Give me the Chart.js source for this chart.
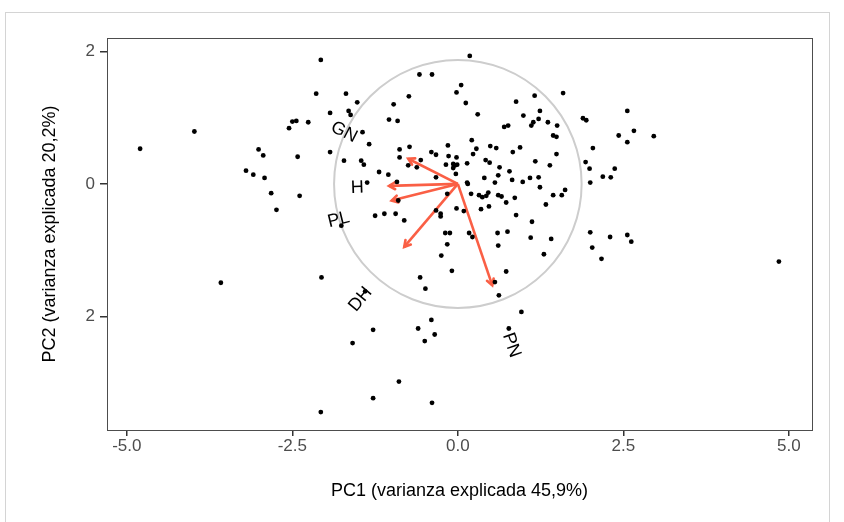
<!DOCTYPE html>
<html><head><meta charset="utf-8">
<script src="https://cdn.jsdelivr.net/npm/chart.js@4.4.0/dist/chart.umd.min.js"></script>
<style>
html,body{margin:0;padding:0;background:#fff;}
#wrap{position:relative;width:844px;height:522px;overflow:hidden;}
#frame{position:absolute;left:5px;top:12px;width:825px;height:530px;border:1px solid #d4d4d4;box-sizing:border-box;pointer-events:none;}
</style></head><body>
<div id="wrap"><canvas id="c" width="844" height="522"></canvas><div id="frame"></div></div>
<script>
// PCA scores (PC1, PC2)
const pcX = [-4.80,-3.98,-3.58,-3.20,-3.09,-3.01,-2.94,-2.92,-2.82,-2.74,
 -2.55,-2.50,-2.44,-2.42,-2.39,-2.26,-2.07,-2.14,-1.69,-1.93,
 -1.65,-1.62,-1.52,-1.44,-1.34,-1.93,-1.72,-1.46,-1.42,-1.37,
 -1.76,-2.06,-1.40,-1.28,-1.59,-1.28,-2.07,-1.19,-1.05,-0.92,
 -0.90,-1.25,-1.11,-0.94,-0.81,-0.97,-0.74,-0.58,-0.39,-1.04,
 -0.91,-0.88,-0.88,-0.73,-0.75,-0.56,-0.62,-0.40,-0.33,-0.33,
 -0.57,-0.49,-0.40,-0.60,-0.35,-0.50,-0.89,-0.39,-0.33,0.18,
 0.05,-0.02,0.12,0.30,-0.15,-0.14,-0.02,-0.18,-0.07,-0.04,
 -0.01,-0.07,0.14,0.21,0.28,0.23,-0.03,0.14,0.15,0.20,
 -0.16,-0.02,0.09,-0.26,-0.26,-0.19,-0.12,-0.16,-0.25,-0.09,
 0.17,0.22,1.16,1.59,0.88,0.99,1.24,1.22,1.14,1.11,
 0.70,0.76,1.36,1.50,1.44,1.49,1.89,1.94,0.49,0.58,
 0.83,0.94,0.42,0.48,0.63,0.78,1.17,1.39,1.49,1.93,
 1.99,0.40,0.56,0.61,0.82,0.98,1.09,1.22,1.24,1.62,
 1.57,1.44,1.33,0.32,0.37,0.43,0.46,0.61,0.66,0.73,
 0.86,0.47,0.35,0.88,1.12,0.60,0.75,0.61,1.10,1.41,
 1.30,0.73,0.56,0.62,0.96,0.77,2.56,2.66,2.43,2.56,
 2.96,2.04,2.00,2.37,2.19,2.31,2.00,2.03,2.17,2.30,
 2.56,2.62,4.85];
const pcY = [0.53,0.79,-1.49,0.20,0.14,0.52,0.43,0.09,-0.14,-0.39,
 0.84,0.94,0.95,0.41,-0.18,0.93,1.87,1.36,1.36,1.07,
 1.10,1.04,1.23,0.78,0.60,0.48,0.35,0.35,0.29,0.02,
 -0.63,-1.41,-1.62,-2.20,-2.40,-3.23,-3.44,0.18,0.14,0.03,
 -0.25,-0.48,-0.45,-0.45,-0.55,1.20,1.32,1.65,1.65,0.97,
 0.95,0.52,0.40,0.56,0.28,0.36,0.25,0.48,0.44,0.10,
 -1.41,-1.58,-2.05,-2.18,-2.27,-2.37,-2.98,-3.30,-0.40,1.93,
 1.49,1.38,1.22,1.05,0.58,0.42,0.40,0.29,0.30,0.28,
 0.29,0.24,0.31,0.66,0.53,0.45,0.15,0.02,0.00,-0.15,
 -0.15,-0.37,-0.41,-0.45,-0.49,-0.74,-0.74,-0.91,-1.08,-1.31,
 -0.74,-0.80,1.33,1.37,1.24,1.03,1.10,0.98,0.93,0.88,
 0.86,0.88,0.93,0.88,0.73,0.71,0.99,0.96,0.57,0.54,
 0.48,0.55,0.36,0.32,0.25,0.19,0.34,0.28,0.45,0.33,
 0.23,0.09,0.02,0.13,0.06,0.03,0.09,0.10,-0.05,-0.09,
 -0.17,-0.17,-0.31,-0.17,-0.20,-0.18,-0.13,-0.17,-0.19,-0.28,
 -0.21,-0.34,-0.38,-0.47,-0.57,-0.74,-0.72,-0.93,-0.81,-0.83,
 -1.06,-1.32,-1.48,-1.68,-1.93,-2.18,1.10,0.80,0.73,0.63,
 0.72,0.54,0.02,0.23,0.11,0.10,-0.73,-0.96,-1.13,-0.80,
 -0.77,-0.87,-1.17];

// variable loadings (arrows) and label placement
const varNames = ['GN','H','PL','DH','PN'];
const arrowX = [-0.75,-1.04,-1.00,-0.81,0.52];
const arrowY = [0.38,-0.03,-0.25,-0.95,-1.53];
const labelX = [-1.72,-1.52,-1.80,-1.47,0.81];
const labelY = [0.78,-0.06,-0.54,-1.74,-2.43];
const labelAngle = [27,-2,-14,-50,71];
const circleRadius = 1.87;

const xTicks = [-5,-2.5,0,2.5,5];
const xTickLabels = ['-5.0','-2.5','0.0','2.5','5.0'];
const yTicks = [-2,0,2];
const yTickLabels = ['2','0','2'];
const xTitle = 'PC1 (varianza explicada 45,9%)';
const yTitle = 'PC2 (varianza explicada 20,2%)';

const FONT = "'Liberation Sans', Arial, sans-serif";
const ARROW_COLOR = '#FA5F45';

const pointData = pcX.map((x,i)=>({x:x, y:pcY[i]}));
const arrowSets = varNames.map((n,i)=>({
  label:n, data:[{x:0,y:0},{x:arrowX[i],y:arrowY[i]}],
  showLine:true, borderColor:ARROW_COLOR, borderWidth:2.6,
  pointRadius:0, fill:false, order:2
}));

const biplotPlugin = {
  id:'biplot',
  beforeDatasetsDraw(chart){
    const {ctx, scales:{x, y}, chartArea} = chart;
    ctx.save();
    ctx.beginPath();
    ctx.rect(chartArea.left, chartArea.top, chartArea.right-chartArea.left, chartArea.bottom-chartArea.top);
    ctx.clip();
    const cx = x.getPixelForValue(0), cy = y.getPixelForValue(0);
    const rx = x.getPixelForValue(circleRadius) - cx;
    const ry = cy - y.getPixelForValue(circleRadius);
    ctx.beginPath();
    ctx.ellipse(cx, cy, rx, ry, 0, 0, Math.PI*2);
    ctx.strokeStyle = '#cdcdcd';
    ctx.lineWidth = 2;
    ctx.stroke();
    ctx.strokeStyle = ARROW_COLOR;
    ctx.lineWidth = 2.6;
    ctx.lineCap = 'round';
    for (let i=0;i<varNames.length;i++){
      const tx = x.getPixelForValue(arrowX[i]), ty = y.getPixelForValue(arrowY[i]);
      const ang = Math.atan2(ty-cy, tx-cx);
      const L = 7, a = Math.PI/6;
      ctx.beginPath();
      ctx.moveTo(tx - L*Math.cos(ang-a), ty - L*Math.sin(ang-a));
      ctx.lineTo(tx, ty);
      ctx.lineTo(tx - L*Math.cos(ang+a), ty - L*Math.sin(ang+a));
      ctx.stroke();
    }
    ctx.restore();
  },
  afterDatasetsDraw(chart){
    const {ctx, scales:{x, y}} = chart;
    ctx.save();
    ctx.fillStyle = '#000';
    ctx.font = '18px ' + FONT;
    ctx.textAlign = 'center';
    ctx.textBaseline = 'middle';
    for (let i=0;i<varNames.length;i++){
      const px = x.getPixelForValue(labelX[i]), py = y.getPixelForValue(labelY[i]);
      ctx.save();
      ctx.translate(px, py);
      ctx.rotate(labelAngle[i]*Math.PI/180);
      ctx.fillText(varNames[i], 0, 0);
      ctx.restore();
    }
    ctx.restore();
  },
  afterDraw(chart){
    const {ctx, chartArea:a} = chart;
    ctx.save();
    ctx.strokeStyle = '#4d4d4d';
    ctx.lineWidth = 1;
    ctx.strokeRect(Math.round(a.left)+0.5, Math.round(a.top)+0.5, Math.round(a.right-a.left), Math.round(a.bottom-a.top));
    ctx.restore();
  }
};

new Chart(document.getElementById('c'), {
  type:'scatter',
  data:{datasets:[
    {label:'scores', data:pointData, pointRadius:2.4, pointHoverRadius:2.4,
     backgroundColor:'#000', borderWidth:0, order:1},
    ...arrowSets
  ]},
  options:{
    responsive:false, animation:false, devicePixelRatio:1,
    layout:{padding:{top:38, right:32, left:0, bottom:0}},
    plugins:{legend:{display:false}, tooltip:{enabled:false}},
    scales:{
      x:{type:'linear', min:-5.30, max:5.35,
        afterBuildTicks:s=>{s.ticks = xTicks.map(v=>({value:v}));},
        afterFit:s=>{s.height = 92;},
        ticks:{callback:(v,i)=>xTickLabels[i], color:'#4d4d4d', font:{family:FONT, size:17}, padding:0, maxRotation:0, autoSkip:false},
        grid:{drawOnChartArea:false, drawTicks:true, tickLength:6, tickColor:'#333', lineWidth:1.5},
        border:{display:false},
        title:{display:true, text:xTitle, color:'#000', font:{family:FONT, size:18}, padding:{top:0, bottom:20}}
      },
      y:{type:'linear', min:-3.71, max:2.20,
        afterBuildTicks:s=>{s.ticks = yTicks.map(v=>({value:v}));},
        afterFit:s=>{s.width = 107;},
        ticks:{callback:(v,i)=>yTickLabels[i], color:'#4d4d4d', font:{family:FONT, size:17}, padding:5, autoSkip:false},
        grid:{drawOnChartArea:false, drawTicks:true, tickLength:7, tickColor:'#333', lineWidth:1.5},
        border:{display:false},
        title:{display:true, text:yTitle, color:'#000', font:{family:FONT, size:18}, padding:{top:39, bottom:0}}
      }
    }
  },
  plugins:[biplotPlugin]
});
</script>
</body></html>
